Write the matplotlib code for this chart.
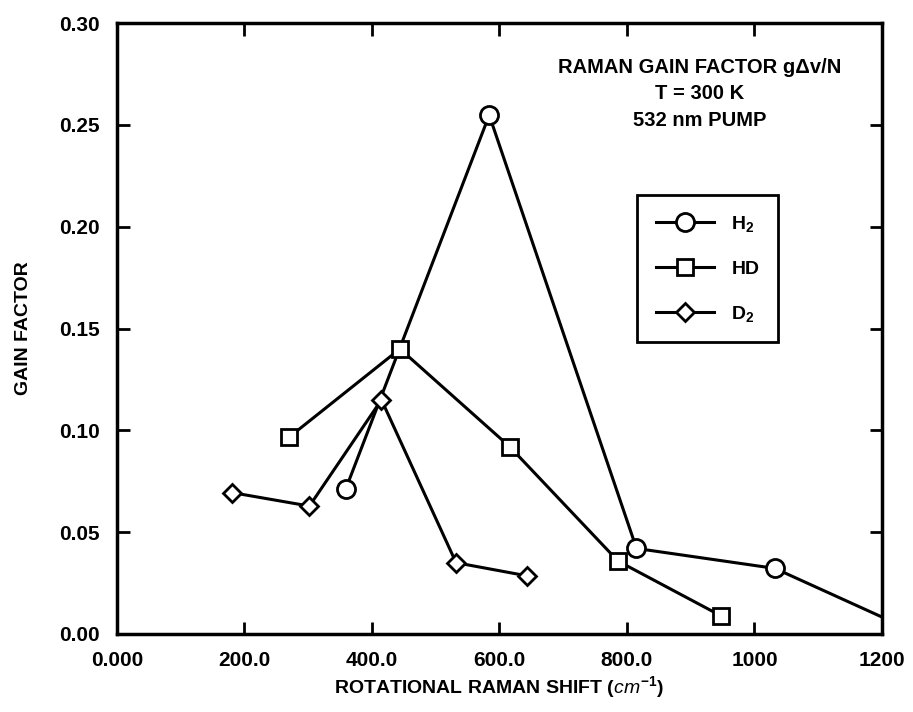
import matplotlib
matplotlib.use("Agg")
import matplotlib.pyplot as plt

plt.rcParams['font.family'] = ['Liberation Sans', 'DejaVu Sans']
plt.rcParams['font.weight'] = 'bold'
plt.rcParams['axes.labelweight'] = 'bold'
plt.rcParams['mathtext.fontset'] = 'custom'
plt.rcParams['mathtext.rm'] = 'Liberation Sans:weight=bold'
plt.rcParams['mathtext.it'] = 'Liberation Sans:style=italic:weight=normal'

# data
h2_x = [359, 584, 815, 1032, 1255]
h2_y = [0.0712, 0.2548, 0.042, 0.0322, 0.0005]
hd_x = [270, 444, 616, 786, 947]
hd_y = [0.0966, 0.140, 0.092, 0.0358, 0.009]
d2_x = [181, 302, 415, 532, 644]
d2_y = [0.0694, 0.0628, 0.115, 0.035, 0.0285]

xticks = [0, 200, 400, 600, 800, 1000, 1200]
xtick_labels = ['0.000', '200.0', '400.0', '600.0', '800.0', '1000', '1200']
yticks = [0.00, 0.05, 0.10, 0.15, 0.20, 0.25, 0.30]
ytick_labels = ['0.00', '0.05', '0.10', '0.15', '0.20', '0.25', '0.30']

fig = plt.figure(figsize=(9.13, 7.12), dpi=100)
ax = fig.add_axes([0.128, 0.1096, 0.838, 0.858])

style = dict(color='black', lw=2.2, mfc='white', mec='black', mew=2.0)
ax.plot(h2_x, h2_y, marker='o', ms=13, label='H$_2$', **style)
ax.plot(hd_x, hd_y, marker='s', ms=12, label='HD', **style)
ax.plot(d2_x, d2_y, marker='D', ms=9, label='D$_2$', **style)

ax.set_xlim(0, 1200)
ax.set_ylim(0, 0.30)
ax.set_xticks(xticks)
ax.set_xticklabels(xtick_labels)
ax.set_yticks(yticks)
ax.set_yticklabels(ytick_labels)
ax.tick_params(direction='in', length=9, width=2, labelsize=15, top=True, right=True, pad=12)
for s in ax.spines.values():
    s.set_linewidth(2.5)

ax.set_xlabel(r'ROTATIONAL RAMAN SHIFT $(cm^{-1})$', fontsize=14, labelpad=3)
ax.set_ylabel('GAIN FACTOR', fontsize=14, labelpad=20)

ax.text(0.762, 0.927, 'RAMAN GAIN FACTOR gΔv/N', transform=ax.transAxes,
        ha='center', va='center', fontsize=14.5)
ax.text(0.762, 0.884, 'T = 300 K', transform=ax.transAxes,
        ha='center', va='center', fontsize=14.5)
ax.text(0.762, 0.840, '532 nm PUMP', transform=ax.transAxes,
        ha='center', va='center', fontsize=14.5)

leg = ax.legend(loc='upper left', bbox_to_anchor=(0.68, 0.718), fontsize=14,
                handlelength=3.0, handletextpad=0.9, labelspacing=1.35, borderpad=0.95,
                borderaxespad=0, fancybox=False, edgecolor='black', framealpha=1)
leg.get_frame().set_linewidth(2)

fig.savefig('out.png', dpi=100)
